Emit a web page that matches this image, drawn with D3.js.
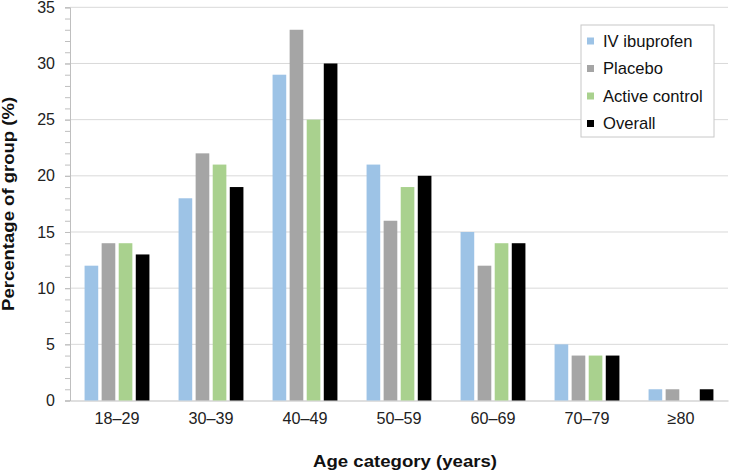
<!DOCTYPE html>
<html>
<head>
<meta charset="utf-8">
<script src="https://cdn.jsdelivr.net/npm/d3@7"></script>
<style>
  body { margin: 0; background: #fff; }
  svg { display: block; font-family: Arial, "Liberation Sans", sans-serif; }
</style>
</head>
<body>
<svg id="chart" width="733" height="471"></svg>
<script>
// age groups + series (percent of group)
const categories = ['18–29', '30–39', '40–49', '50–59', '60–69', '70–79', '≥80'];
const seriesNames = ['IV ibuprofen', 'Placebo', 'Active control', 'Overall'];
const ivIbuprofen = [12, 18, 29, 21, 15, 5, 1];
const placebo = [14, 22, 33, 16, 12, 4, 1];
const activeControl = [14, 21, 25, 19, 14, 4, 0];
const overall = [13, 19, 30, 20, 14, 4, 1];
const yTicks = [0, 5, 10, 15, 20, 25, 30, 35];

const colors = ['#9dc3e6', '#a5a5a5', '#a9d18e', '#000000'];
const allSeries = [ivIbuprofen, placebo, activeControl, overall];

const data = categories.map((c, i) => ({
  cat: c,
  values: seriesNames.map((s, j) => ({ key: s, value: allSeries[j][i] }))
}));

const svg = d3.select('#chart');
const margin = { top: 7.3, right: 5, bottom: 70.5, left: 70 };
const width = 733 - margin.left - margin.right;
const height = 471 - margin.top - margin.bottom;

const g = svg.append('g')
  .attr('transform', `translate(${margin.left},${margin.top})`);

const x0 = d3.scaleBand()
  .domain(categories)
  .range([0, width])
  .paddingInner(0.31)
  .paddingOuter(0.155);

const x1 = d3.scaleBand()
  .domain(seriesNames)
  .range([0, x0.bandwidth()])
  .paddingInner(0.2);

const y = d3.scaleLinear()
  .domain([0, 35])
  .range([height, 0]);

// gridlines
g.append('g')
  .selectAll('line')
  .data(yTicks.filter(d => d > 0))
  .enter().append('line')
  .attr('x1', 0)
  .attr('x2', width)
  .attr('y1', d => y(d))
  .attr('y2', d => y(d))
  .attr('stroke', '#d9d9d9')
  .attr('stroke-width', 1);

// minor ticks every 1
g.append('g')
  .call(d3.axisLeft(y).ticks(35).tickSize(5).tickFormat(''))
  .call(a => a.select('.domain').remove())
  .selectAll('line')
  .attr('stroke', '#bfbfbf');

// y axis labels
const yAxis = g.append('g')
  .call(d3.axisLeft(y).tickValues(yTicks).tickSize(5).tickPadding(10));
yAxis.select('.domain').attr('stroke', '#bfbfbf');
yAxis.selectAll('line').attr('stroke', '#bfbfbf');
yAxis.selectAll('text')
  .attr('fill', '#222')
  .attr('font-size', '16px')
  .attr('font-family', 'Arial, "Liberation Sans", sans-serif');

// x axis
const xAxis = g.append('g')
  .attr('transform', `translate(0,${height})`)
  .call(d3.axisBottom(x0).tickSize(0).tickPadding(12));
xAxis.select('.domain').attr('stroke', '#bfbfbf');
xAxis.selectAll('text')
  .attr('fill', '#222')
  .attr('font-size', '16.2px')
  .attr('font-family', 'Arial, "Liberation Sans", sans-serif');

// bars
g.append('g')
  .selectAll('g')
  .data(data)
  .enter().append('g')
  .attr('transform', d => `translate(${x0(d.cat)},0)`)
  .selectAll('rect')
  .data(d => d.values)
  .enter().append('rect')
  .attr('x', d => x1(d.key))
  .attr('y', d => y(d.value))
  .attr('width', x1.bandwidth())
  .attr('height', d => y(0) - y(d.value))
  .attr('fill', (d, i) => colors[i]);

// axis titles
svg.append('text')
  .attr('transform', `translate(14,${margin.top + height / 2}) rotate(-90)`)
  .attr('text-anchor', 'middle')
  .attr('font-size', '17px')
  .attr('font-weight', 'bold')
  .attr('fill', '#111')
  .attr('textLength', 214)
  .attr('lengthAdjust', 'spacingAndGlyphs')
  .text('Percentage of group (%)');

svg.append('text')
  .attr('x', 405)
  .attr('y', 466.5)
  .attr('text-anchor', 'middle')
  .attr('font-size', '17px')
  .attr('font-weight', 'bold')
  .attr('fill', '#111')
  .attr('textLength', 184)
  .attr('lengthAdjust', 'spacingAndGlyphs')
  .text('Age category (years)');

// legend
const legend = svg.append('g').attr('transform', 'translate(581,25)');
legend.append('rect')
  .attr('width', 133)
  .attr('height', 112)
  .attr('fill', '#fff')
  .attr('stroke', '#c8c8c8');

const item = legend.selectAll('.item')
  .data(seriesNames)
  .enter().append('g')
  .attr('class', 'item')
  .attr('transform', (d, i) => `translate(6,${16 + i * 27.5})`);

item.append('rect')
  .attr('x', 0)
  .attr('y', -3.5)
  .attr('width', 7)
  .attr('height', 7)
  .attr('fill', (d, i) => colors[i]);

item.append('text')
  .attr('x', 16)
  .attr('dy', '0.36em')
  .attr('font-size', '16.6px')
  .attr('fill', '#111')
  .text(d => d);
</script>
</body>
</html>
